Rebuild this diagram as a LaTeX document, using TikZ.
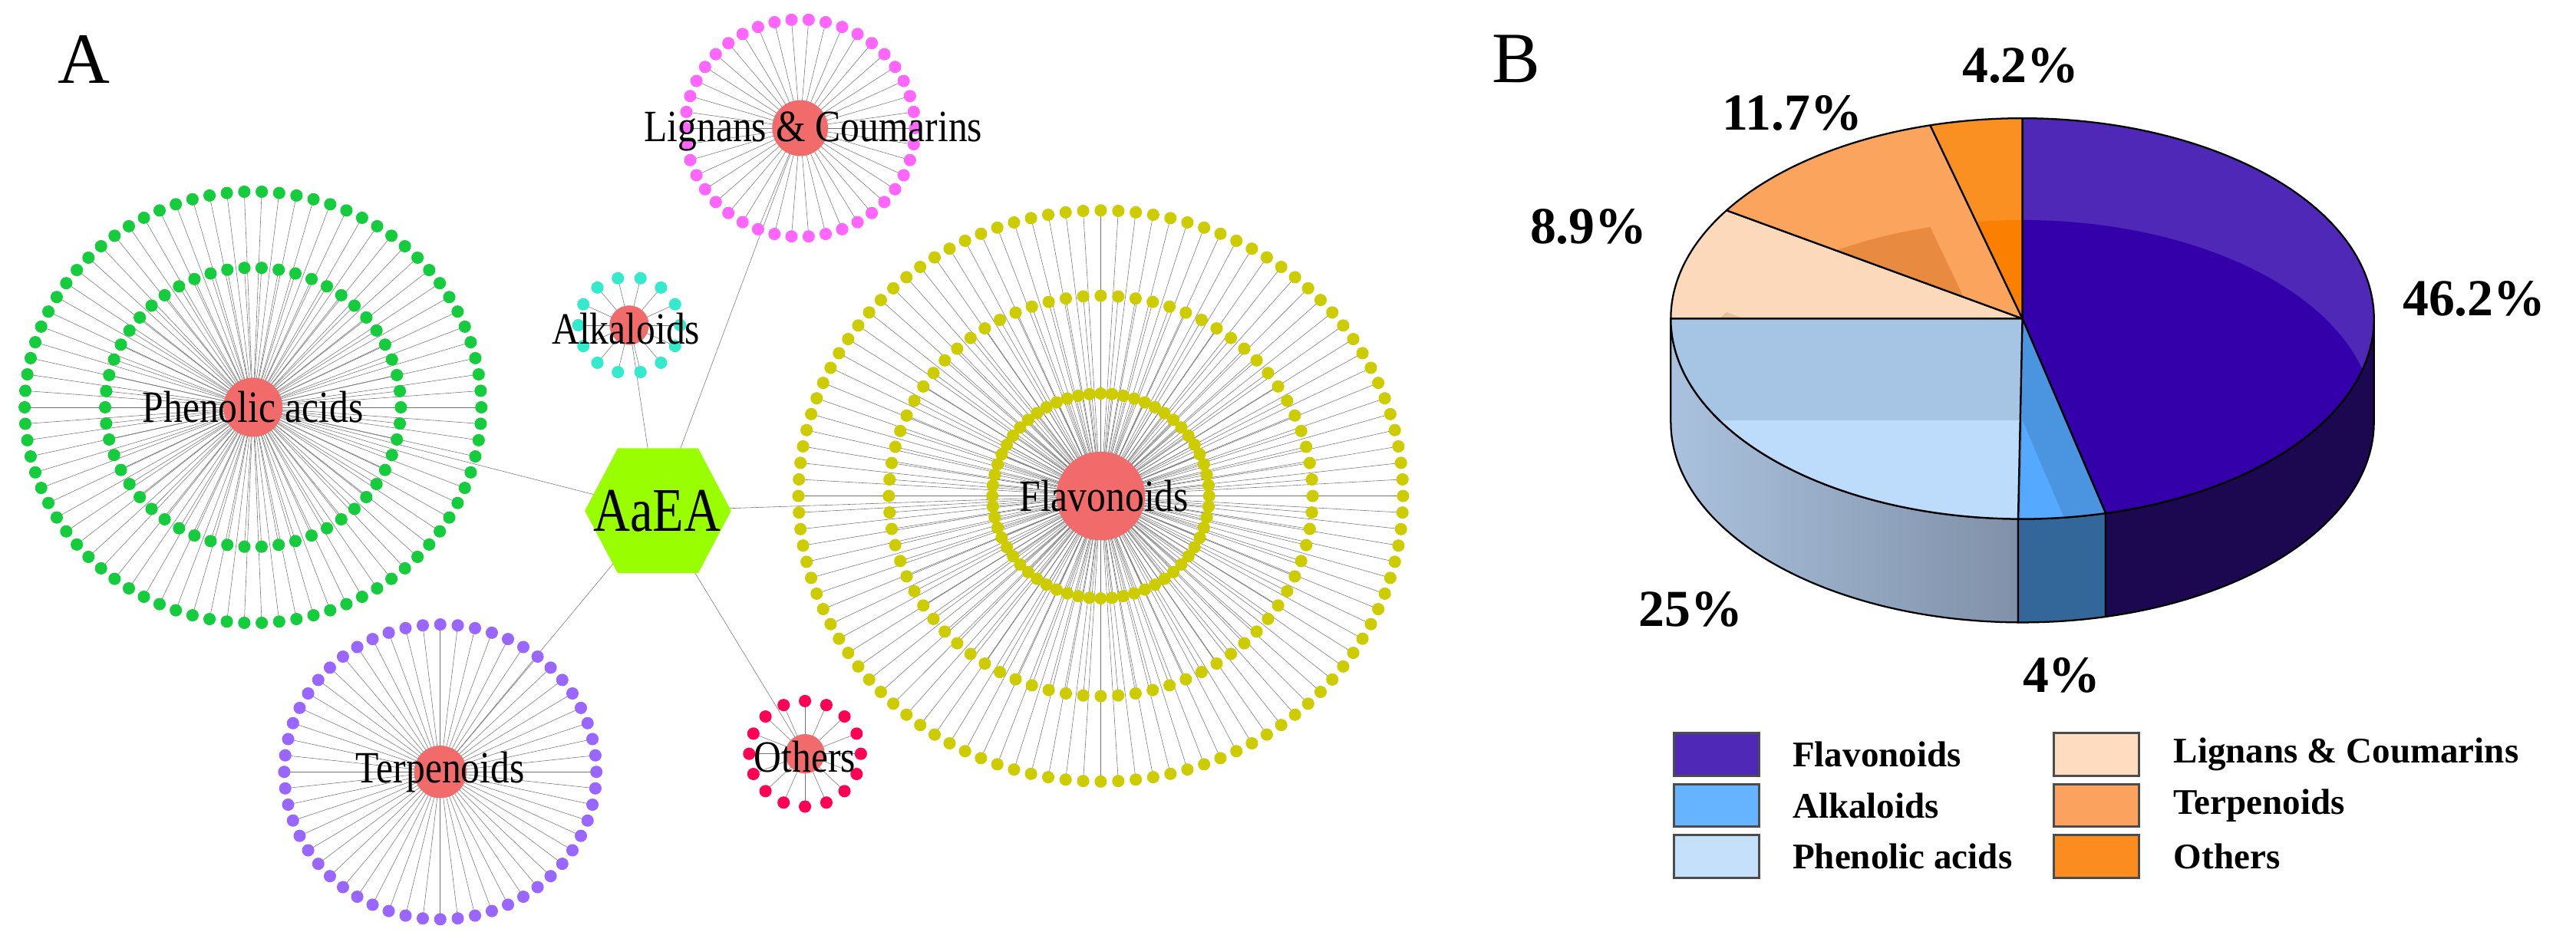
\documentclass[tikz,border=0pt]{standalone}
\usepackage{fontspec}
\setmainfont{Liberation Serif}
\pgfdeclarelayer{bg}\pgfsetlayers{bg,main}
\definecolor{nodered}{HTML}{F26B6B}
\definecolor{hexgreen}{HTML}{99FF00}
\definecolor{cgreen}{HTML}{14CC3C}
\definecolor{colive}{HTML}{CCCC00}
\definecolor{cmag}{HTML}{FF66FF}
\definecolor{ccyan}{HTML}{33EBCC}
\definecolor{cpurp}{HTML}{9966FF}
\definecolor{ccrim}{HTML}{FF0055}
\definecolor{flA}{HTML}{5028B8}\definecolor{flB}{HTML}{3300AA}\definecolor{flS}{HTML}{1C0850}
\definecolor{alA}{HTML}{4A94E0}\definecolor{alB}{HTML}{55AAFF}\definecolor{alS}{HTML}{336699}
\definecolor{phA}{HTML}{A6C4E4}\definecolor{phB}{HTML}{BDDCFB}
\definecolor{phL}{HTML}{AAC2DE}\definecolor{phR}{HTML}{8090A8}
\definecolor{liA}{HTML}{FDD9BC}\definecolor{liB}{HTML}{E5C0A0}
\definecolor{teA}{HTML}{FBA45E}\definecolor{teB}{HTML}{E88A40}
\definecolor{otA}{HTML}{FB9022}\definecolor{otB}{HTML}{FB7F00}
\definecolor{lgFl}{HTML}{5028B8}\definecolor{lgAl}{HTML}{66B3FF}\definecolor{lgPh}{HTML}{C4E0FB}
\definecolor{lgLi}{HTML}{FDDCC0}\definecolor{lgTe}{HTML}{FBA35E}\definecolor{lgOt}{HTML}{FB8C1F}
% #1 center node, #2 cx, #3 cy, #4 r, #5 n, #6 colour
\newcommand\ringdots[6]{%
 \foreach \k in {1,...,#5}{%
  \node[dot=#6] (#1r#4d\k) at ({#2+#4*cos(360/#5*\k)},{#3+0.945*#4*sin(360/#5*\k)}) {};}
 \begin{pgfonlayer}{bg}
 \foreach \k in {1,...,#5}{\draw[spoke] (#1.center) -- (#1r#4d\k.center);}
 \end{pgfonlayer}}
\newcommand\topsector[4]{%
 \begin{scope}
  \clip (0,0) -- (#1:214 and 122) arc[start angle=#1,end angle=#2,x radius=214,y radius=122] -- cycle;
  \fill[#3] (-250,-150) rectangle (250,150);
  \fill[#4] (0,-62) -- ++(#1:214 and 122) arc[start angle=#1,end angle=#2,x radius=214,y radius=122] -- cycle;
 \end{scope}
 \draw[pieline] (0,0) -- (#1:214 and 122) arc[start angle=#1,end angle=#2,x radius=214,y radius=122] -- cycle;}
\newcommand\sidewall[3]{%
 \path[pieline,#3] (#1:214 and 122) arc[start angle=#1,end angle=#2,x radius=214,y radius=122] -- ++(0,-63) arc[start angle=#2,end angle=#1,x radius=214,y radius=122] -- cycle;}
\begin{document}
\begin{tikzpicture}[x=0.04cm,y=-0.04cm,
 dot/.style={circle,inner sep=0pt,minimum size=0.3cm,fill=#1},
 spoke/.style={black!55,line width=0.3pt},
 hubc/.style={circle,fill=nodered,inner sep=0pt,minimum size=#1},
 lab/.style={font=\fontsize{31}{31}\selectfont,xscale=0.85,inner sep=0pt},
 pieline/.style={draw=black,line width=1.2pt,line join=round},
 pct/.style={font=\bfseries\fontsize{36}{36}\selectfont,inner sep=0pt},
 legbox/.style={draw=black!70,line width=1.6pt,minimum width=2.08cm,minimum height=1.04cm,inner sep=0pt},
 legtext/.style={font=\bfseries\fontsize{25}{25}\selectfont,anchor=west,inner sep=0pt},
 panel/.style={font=\fontsize{50}{50}\selectfont,inner sep=0pt}]
\useasboundingbox (0,0) rectangle (1568,567.5);
\node[panel] (pA) at (51,36) {A};
\node[panel] (pB) at (923,36) {B};
% centers
\node[hubc=1.44cm] (pc) at (154,248) {};
\node[hubc=2.16cm] (fc) at (670,302) {};
\node[hubc=1.36cm] (lc) at (487,78) {};
\node[hubc=0.96cm] (ac) at (383,198) {};
\node[hubc=1.28cm] (tc) at (268,470) {};
\node[hubc=0.96cm] (oc) at (490,459) {};
\ringdots{pc}{154}{248}{139}{82}{cgreen}
\ringdots{pc}{154}{248}{90}{54}{cgreen}
\ringdots{fc}{670}{302}{184}{108}{colive}
\ringdots{fc}{670}{302}{129}{76}{colive}
\ringdots{fc}{670}{302}{66}{60}{colive}
\ringdots{lc}{487}{78}{70}{42}{cmag}
\ringdots{ac}{383}{198}{31}{14}{ccyan}
\ringdots{tc}{268}{470}{95}{56}{cpurp}
\ringdots{oc}{490}{459}{34}{16}{ccrim}
\fill[hexgreen] (356,311)--(376,273)--(425,273)--(445,311)--(425,349)--(376,349)--cycle;
\node[font=\fontsize{43}{43}\selectfont,xscale=0.82,inner sep=0pt] (hub) at (400,311) {AaEA};
\begin{pgfonlayer}{bg}
\foreach \t in {pc,fc,lc,ac,tc,oc}{\draw[spoke] (hub.center) -- (\t.center);}
\end{pgfonlayer}
\node[lab] (pl) at (154,248) {Phenolic acids};
\node[lab] (fl) at (672,302) {Flavonoids};
\node[lab] (ll) at (495,80) {Lignans \& Coumarins};
\node[lab] (al) at (381,200) {Alkaloids};
\node[lab] (tl) at (268,470) {Terpenoids};
\node[lab] (ol) at (490,461) {Others};
% pie
\coordinate (pieC) at (1231,194);
\begin{scope}[shift={(pieC)},y=0.04cm]
 \sidewall{180}{269.3}{left color=phL,right color=phR}
 \sidewall{269.3}{283.7}{fill=alS}
 \sidewall{283.7}{360}{fill=flS}
 \topsector{-76.3}{90}{flA}{flB}
 \topsector{-90.7}{-76.3}{alA}{alB}
 \topsector{180}{269.3}{phA}{phB}
 \topsector{147.3}{180}{liA}{liB}
 \topsector{105.2}{147.3}{teA}{teB}
 \topsector{90}{105.2}{otA}{otB}
\end{scope}
\node[pct] (q1) at (1230,40) {4.2\%};
\node[pct] (q2) at (1091,69) {11.7\%};
\node[pct] (q3) at (967,138) {8.9\%};
\node[pct] (q4) at (1506,182) {46.2\%};
\node[pct] (q5) at (1029,371) {25\%};
\node[pct] (q6) at (1255,411) {4\%};
% legend
\node[legbox,fill=lgFl] (b1) at (1045,459.5) {};
\node[legbox,fill=lgAl] (b2) at (1045,490.5) {};
\node[legbox,fill=lgPh] (b3) at (1045,521.5) {};
\node[legbox,fill=lgLi] (b4) at (1276,459.5) {};
\node[legbox,fill=lgTe] (b5) at (1276,490.5) {};
\node[legbox,fill=lgOt] (b6) at (1276,521.5) {};
\node[legtext] (t1) at (1091,459.5) {Flavonoids};
\node[legtext] (t2) at (1091,490.5) {Alkaloids};
\node[legtext] (t3) at (1091,521.5) {Phenolic acids};
\node[legtext] (t4) at (1323,459.5) {Lignans \& Coumarins};
\node[legtext] (t5) at (1323,490.5) {Terpenoids};
\node[legtext] (t6) at (1323,521.5) {Others};
\end{tikzpicture}
\end{document}
